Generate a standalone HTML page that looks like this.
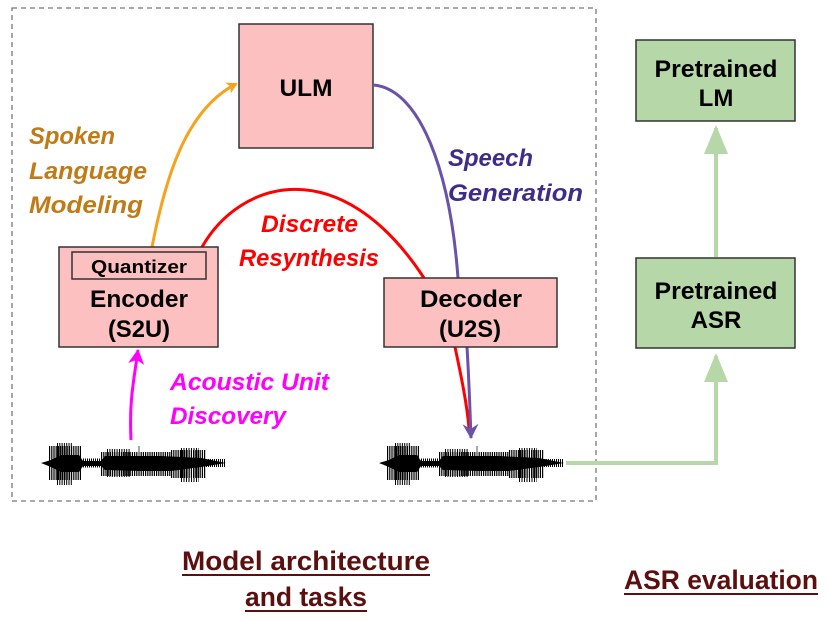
<!DOCTYPE html>
<html><head><style>
body{margin:0;width:827px;height:616px;background:#fff;overflow:hidden;font-family:"Liberation Sans",sans-serif}
svg text{font-family:"Liberation Sans",sans-serif}
</style></head><body>
<svg width="827" height="616" viewBox="0 0 827 616">
<defs>
<marker id="mo" markerWidth="12" markerHeight="12" refX="9" refY="6" orient="auto" markerUnits="userSpaceOnUse"><path d="M0,0 L11,6 L0,12 L3,6 Z" fill="#f7a21b"/></marker>
<marker id="mm" markerWidth="18" markerHeight="18" refX="14" refY="9" orient="auto" markerUnits="userSpaceOnUse"><path d="M0,1 L15,9 L0,17 L4,9 Z" fill="#f0f"/></marker>
<marker id="mp" markerWidth="18" markerHeight="18" refX="14" refY="9" orient="auto" markerUnits="userSpaceOnUse"><path d="M0,1 L15,9 L0,17 L5,9 Z" fill="#6a52a8"/></marker>
<marker id="mg" markerWidth="32" markerHeight="32" refX="26" refY="12" orient="auto" markerUnits="userSpaceOnUse"><path d="M0,0 L29,12 L0,24 Z" fill="#b6d7a8"/></marker>
<g id="wave">
<path d="M0,463 L10,460 L20,455 L38,455 L42,461 L60,461 L64,456 L120,456 L160,458 L185,463 L160,467 L130,471 L100,471 L64,470 L60,466 L42,466 L38,472 L20,472 L10,467 Z" fill="#000"/>
<line x1="8" y1="463" x2="40" y2="463" stroke="#000" stroke-width="34" stroke-dasharray="1.2,1"/>
<line x1="16" y1="464" x2="32" y2="464" stroke="#000" stroke-width="42" stroke-dasharray="1,1.3"/>
<line x1="42" y1="463" x2="60" y2="463" stroke="#000" stroke-width="9" stroke-dasharray="1,1"/>
<line x1="60" y1="464" x2="130" y2="464" stroke="#000" stroke-width="24" stroke-dasharray="1.2,1"/>
<line x1="66" y1="463" x2="90" y2="463" stroke="#000" stroke-width="28" stroke-dasharray="1,1.4"/>
<line x1="130" y1="464" x2="165" y2="464" stroke="#000" stroke-width="28" stroke-dasharray="1.2,1"/>
<line x1="140" y1="465" x2="158" y2="465" stroke="#000" stroke-width="34" stroke-dasharray="1,1.5"/>
<line x1="165" y1="463" x2="185" y2="463" stroke="#000" stroke-width="8" stroke-dasharray="1,1"/>
<line x1="98" y1="446" x2="98" y2="456" stroke="#555" stroke-width="1"/>
</g>
</defs>
<rect x="12" y="8" width="584" height="493" fill="none" stroke="#777" stroke-width="1.3" stroke-dasharray="5,4"/>
<path d="M152,247 C165,180 185,110 236,84" fill="none" stroke="#f7a21b" stroke-width="3" marker-end="url(#mo)"/>
<path d="M202,247 C240,180 340,150 424,278 M455,347 C462,380 467,405 469,428" fill="none" stroke="#f00" stroke-width="3"/>
<path d="M374,85 C420,90 450,170 458,278 M467,347 C469,380 470,410 471,438" fill="none" stroke="#6a52a8" stroke-width="3" marker-end="url(#mp)"/>
<path d="M131,440 C129,400 134,380 138,350" fill="none" stroke="#f0f" stroke-width="3" marker-end="url(#mm)"/>
<rect x="239" y="24" width="134" height="124" fill="#fbc0bf" stroke="#333" stroke-width="1.5"/>
<text x="306" y="96" text-anchor="middle" font-size="24" font-weight="bold" textLength="53" lengthAdjust="spacingAndGlyphs">ULM</text>
<rect x="59" y="247" width="159" height="100" fill="#fbc0bf" stroke="#333" stroke-width="1.5"/>
<rect x="72" y="252" width="134" height="27" fill="#fbc0bf" stroke="#333" stroke-width="1.5"/>
<text x="139" y="273" text-anchor="middle" font-size="18" font-weight="bold" textLength="96" lengthAdjust="spacingAndGlyphs">Quantizer</text>
<text x="139" y="307" text-anchor="middle" font-size="24" font-weight="bold" textLength="98" lengthAdjust="spacingAndGlyphs">Encoder</text>
<text x="139" y="337" text-anchor="middle" font-size="24" font-weight="bold" textLength="62" lengthAdjust="spacingAndGlyphs">(S2U)</text>
<rect x="384" y="278" width="173" height="69" fill="#fbc0bf" stroke="#333" stroke-width="1.5"/>
<text x="471" y="307" text-anchor="middle" font-size="24" font-weight="bold" textLength="102" lengthAdjust="spacingAndGlyphs">Decoder</text>
<text x="470" y="337" text-anchor="middle" font-size="24" font-weight="bold" textLength="62" lengthAdjust="spacingAndGlyphs">(U2S)</text>
<path d="M566,463 L716,463 L716,356" fill="none" stroke="#b6d7a8" stroke-width="4" marker-end="url(#mg)"/>
<path d="M716,257 L716,128" fill="none" stroke="#b6d7a8" stroke-width="4" marker-end="url(#mg)"/>
<rect x="636" y="40" width="159" height="81" fill="#b6d7a8" stroke="#333" stroke-width="1.5"/>
<text x="716" y="77" text-anchor="middle" font-size="24" font-weight="bold" textLength="123" lengthAdjust="spacingAndGlyphs">Pretrained</text>
<text x="716" y="106" text-anchor="middle" font-size="24" font-weight="bold">LM</text>
<rect x="636" y="258" width="159" height="90" fill="#b6d7a8" stroke="#333" stroke-width="1.5"/>
<text x="716" y="299" text-anchor="middle" font-size="24" font-weight="bold" textLength="123" lengthAdjust="spacingAndGlyphs">Pretrained</text>
<text x="716" y="328" text-anchor="middle" font-size="24" font-weight="bold">ASR</text>
<g font-size="24" font-weight="bold" font-style="italic">
<text x="29" y="144" fill="#c07a16" textLength="86" lengthAdjust="spacingAndGlyphs">Spoken</text>
<text x="29" y="179" fill="#c07a16" textLength="118" lengthAdjust="spacingAndGlyphs">Language</text>
<text x="29" y="213" fill="#c07a16" textLength="114" lengthAdjust="spacingAndGlyphs">Modeling</text>
<text x="448" y="166" fill="#3d2d8a" textLength="85" lengthAdjust="spacingAndGlyphs">Speech</text>
<text x="448" y="201" fill="#3d2d8a" textLength="135" lengthAdjust="spacingAndGlyphs">Generation</text>
<text x="261" y="232" fill="#f00" textLength="97" lengthAdjust="spacingAndGlyphs">Discrete</text>
<text x="239" y="266" fill="#f00" textLength="140" lengthAdjust="spacingAndGlyphs">Resynthesis</text>
<text x="170" y="390" fill="#f0f" textLength="159" lengthAdjust="spacingAndGlyphs">Acoustic Unit</text>
<text x="170" y="424" fill="#f0f" textLength="116" lengthAdjust="spacingAndGlyphs">Discovery</text>
</g>
<use href="#wave" x="41" y="0"/>
<use href="#wave" x="379" y="0"/>
<g font-size="27" font-weight="bold" fill="#5c0f0f">
<text x="182" y="570" textLength="248" lengthAdjust="spacingAndGlyphs">Model architecture</text>
<text x="245" y="606" textLength="122" lengthAdjust="spacingAndGlyphs">and tasks</text>
<text x="624" y="589" textLength="194" lengthAdjust="spacingAndGlyphs">ASR evaluation</text>
</g>
<g stroke="#5c0f0f" stroke-width="2">
<line x1="182" y1="575" x2="430" y2="575"/>
<line x1="245" y1="611" x2="367" y2="611"/>
<line x1="624" y1="594" x2="818" y2="594"/>
</g>
</svg>
</body></html>
